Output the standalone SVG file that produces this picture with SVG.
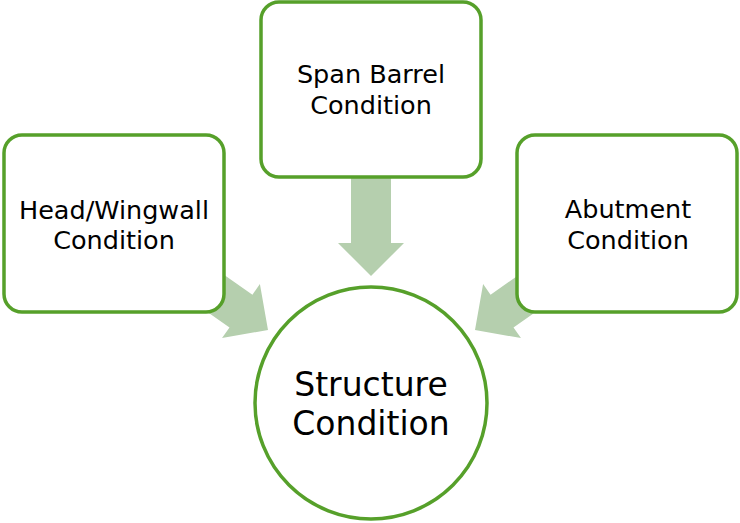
<svg xmlns="http://www.w3.org/2000/svg" width="740" height="523" viewBox="0 0 740 523">
<defs>
<style>
.box{fill:#ffffff;stroke:#56a02a;stroke-width:3.5}
.arr{fill:#b5cfae}
.t{font-family:"DejaVu Sans","Open Sans",sans-serif;fill:#000000;text-anchor:middle}
.s{font-size:25.5px}
.l{font-size:33px}
</style>
<polygon id="arrowShape" points="-110,-20 -33,-20 -33,-33 0,0 -33,33 -33,20 -110,20"/>
</defs>
<rect width="740" height="523" fill="#ffffff"/>
<g id="connectors">
<use href="#arrowShape" class="arr" transform="translate(371,276) rotate(90)"/>
<use href="#arrowShape" class="arr" transform="translate(268,330) rotate(35)"/>
<use href="#arrowShape" class="arr" transform="translate(475,330) rotate(145)"/>
</g>
<g id="span">
<rect class="box" x="261" y="2" width="220" height="175" rx="18"/>
<text class="t s" x="371" y="83">Span Barrel<tspan x="371" dy="30.5">Condition</tspan></text>
</g>
<g id="head">
<rect class="box" x="4" y="135" width="220" height="177" rx="18"/>
<text class="t s" x="114" y="218.5">Head/Wingwall<tspan x="114" dy="30.5">Condition</tspan></text>
</g>
<g id="abutment">
<rect class="box" x="517" y="135" width="220" height="177" rx="18"/>
<text class="t s" x="628" y="218">Abutment<tspan x="628" dy="30.5">Condition</tspan></text>
</g>
<g id="structure">
<circle class="box" cx="371" cy="403" r="116"/>
<text class="t l" x="371" y="396">Structure<tspan x="371" dy="39">Condition</tspan></text>
</g>
</svg>
